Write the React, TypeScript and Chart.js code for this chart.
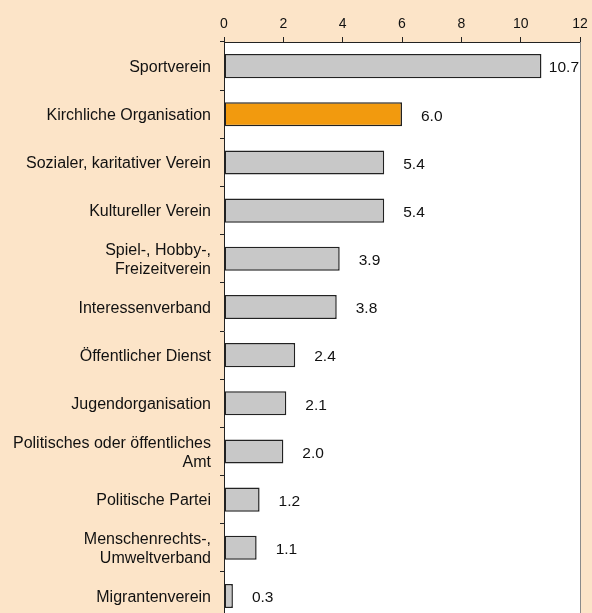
import React, { useEffect, useRef } from "react";
import { Chart, registerables } from "chart.js";

Chart.register(...registerables);

const categories: (string | string[])[] = [
  "Sportverein",
  "Kirchliche Organisation",
  "Sozialer, karitativer Verein",
  "Kultureller Verein",
  ["Spiel-, Hobby-,", "Freizeitverein"],
  "Interessenverband",
  "Öffentlicher Dienst",
  "Jugendorganisation",
  ["Politisches oder öffentliches", "Amt"],
  "Politische Partei",
  ["Menschenrechts-,", "Umweltverband"],
  "Migrantenverein",
];
const values = [10.7, 6.0, 5.4, 5.4, 3.9, 3.8, 2.4, 2.1, 2.0, 1.2, 1.1, 0.3];
const highlightIndex = 1;
const xTicks = [0, 2, 4, 6, 8, 10, 12];

const FONT = "'Liberation Sans', Arial, sans-serif";
const BG = "#FCE4C8";
const TEXT = "#111111";

const plotBgPlugin = {
  id: "plotBg",
  beforeDraw(chart: any) {
    const { ctx, chartArea } = chart;
    ctx.save();
    ctx.fillStyle = "#ffffff";
    ctx.fillRect(chartArea.left, chartArea.top, chartArea.right - chartArea.left, chartArea.bottom - chartArea.top);
    ctx.restore();
  },
  afterDraw(chart: any) {
    const { ctx, chartArea } = chart;
    ctx.save();
    ctx.strokeStyle = "#8a8a8a";
    ctx.lineWidth = 1;
    ctx.beginPath();
    ctx.moveTo(chartArea.right + 0.5, chartArea.top);
    ctx.lineTo(chartArea.right + 0.5, chartArea.bottom);
    ctx.stroke();
    ctx.restore();
  },
};

const valueLabelPlugin = {
  id: "valueLabels",
  afterDatasetsDraw(chart: any) {
    const { ctx, chartArea } = chart;
    const meta = chart.getDatasetMeta(0);
    ctx.save();
    ctx.font = `15.5px ${FONT}`;
    ctx.fillStyle = TEXT;
    ctx.textAlign = "left";
    ctx.textBaseline = "middle";
    meta.data.forEach((bar: any, i: number) => {
      const txt = values[i].toFixed(1);
      const w = ctx.measureText(txt).width;
      let x = bar.x + 19;
      if (x + w > chartArea.right - 1) x = chartArea.right - 1 - w;
      ctx.fillText(txt, x, bar.y + 2);
    });
    ctx.restore();
  },
};

export default function App() {
  const ref = useRef<HTMLCanvasElement>(null);
  useEffect(() => {
    if (!ref.current) return;
    const chart = new Chart(ref.current, {
      type: "bar",
      data: {
        labels: categories,
        datasets: [
          {
            data: values,
            backgroundColor: values.map((_, i) => (i === highlightIndex ? "#F29A0E" : "#C8C8C8")),
            borderColor: "#222222",
            borderWidth: 1.5,
            borderSkipped: false,
            barPercentage: 0.5,
            categoryPercentage: 1,
          },
        ],
      },
      options: {
        indexAxis: "y",
        animation: false,
        responsive: false,
        maintainAspectRatio: false,
        layout: { padding: { left: 0, right: 12, top: 0, bottom: 0 } },
        plugins: { legend: { display: false }, tooltip: { enabled: false } },
        scales: {
          x: {
            position: "top",
            min: 0,
            max: 12,
            afterBuildTicks(scale: any) {
              scale.ticks = xTicks.map((v) => ({ value: v }));
            },
            afterFit(scale: any) {
              scale.height = 42;
              scale.paddingLeft = 0;
              scale.paddingRight = 0;
            },
            ticks: {
              color: TEXT,
              font: { family: FONT, size: 14 },
              padding: 4,
              maxRotation: 0,
            },
            grid: { drawOnChartArea: false, tickLength: 5, color: "#222222" },
            border: { color: "#222222", width: 1 },
          },
          y: {
            afterFit(scale: any) {
              scale.width = 224;
              scale.paddingTop = 0;
              scale.paddingBottom = 0;
            },
            ticks: {
              color: TEXT,
              font: { family: FONT, size: 16, lineHeight: 1.15 },
              padding: 9,
              labelOffset: 1.5,
              autoSkip: false,
            },
            grid: { drawOnChartArea: false, tickLength: 4, offset: true, color: "#222222" },
            border: { color: "#222222", width: 1 },
          },
        },
      },
      plugins: [plotBgPlugin, valueLabelPlugin],
    });
    return () => chart.destroy();
  }, []);
  return (
    <div style={{ position: "fixed", left: 0, top: 0, width: 592, height: 620, background: BG }}>
      <canvas ref={ref} width={592} height={620} style={{ display: "block" }} />
    </div>
  );
}
